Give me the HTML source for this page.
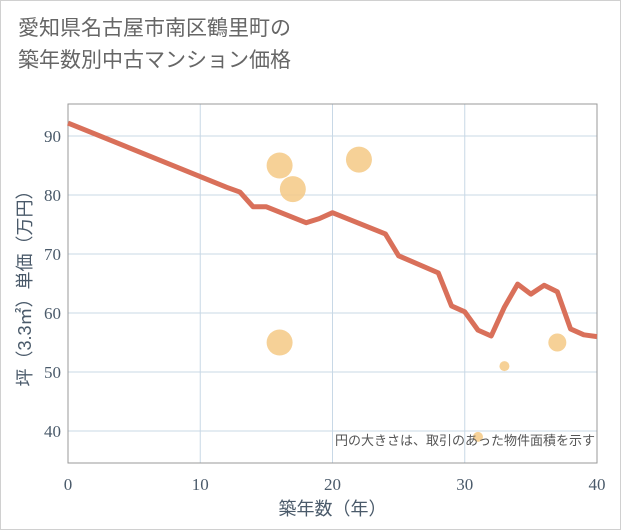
<!DOCTYPE html>
<html><head><meta charset="utf-8"><style>
html,body{margin:0;padding:0;background:#fff}
#wrap{position:relative;width:619px;height:528px;border:1px solid #d0d0d0;background:#fff;font-family:"Liberation Sans","Noto Sans CJK JP",sans-serif}
.title{position:absolute;left:17px;top:12px;font-size:21px;line-height:32px;color:#666}
svg{position:absolute;left:0;top:0}
</style></head><body>
<div id="wrap">
<div class="title">愛知県名古屋市南区鶴里町の<br>築年数別中古マンション価格</div>
<svg id="chart" width="621" height="530"></svg>
</div>
<script>
const lineYears=[0,12,13,14,15,18,19,20,24,25,28,29,30,31,32,33,34,35,36,37,38,39,40];
const lineValues=[92.2,81.3,80.5,78,78,75.3,76,77,73.4,69.7,66.8,61.2,60.2,57.1,56.1,61,64.9,63.2,64.7,63.6,57.3,56.3,56];
const bubbleYears=[16,17,22,16,33,37,31];
const bubbleValues=[85,81,86,55,51,55,39];
const bubbleRadii=[13,13,13,13,5,9,5];
const xTicks=[0,10,20,30,40];
const yTicks=[40,50,60,70,80,90];
const NS="http://www.w3.org/2000/svg";
const svg=document.getElementById('chart');
const L=67,R=596,T=103,B=462;
const xs=v=>L+(v-0)/40*(R-L);
const ys=v=>430-(v-40)*5.9;
function mk(t,a){const e=document.createElementNS(NS,t);for(const k in a)e.setAttribute(k,a[k]);svg.appendChild(e);return e;}
xTicks.forEach(t=>{
 if(t>0&&t<40){const g=mk('line',{x1:xs(t),x2:xs(t),y1:T,y2:B,stroke:'#c8d8e6','stroke-width':1});
 
 }
 const l=mk('text',{x:xs(t),y:B+27,'text-anchor':'middle','font-size':17,fill:'#4a5a6a','font-family':'"Liberation Serif",serif'});
 l.textContent=t;
 
 
});
yTicks.forEach(t=>{
 const g=mk('line',{x1:L,x2:R,y1:ys(t),y2:ys(t),stroke:'#c8d8e6','stroke-width':1});
 
 
 const l=mk('text',{x:L-7,y:ys(t)+6,'text-anchor':'end','font-size':17,fill:'#4a5a6a','font-family':'"Liberation Serif",serif'});
 l.textContent=t;
 
 
});
const fr=mk('rect',{x:L,y:T,width:R-L,height:B-T,fill:'none',stroke:'#999','stroke-width':1});


bubbleYears.forEach((yr,i)=>{
 const c=mk('circle',{cx:xs(yr),cy:ys(bubbleValues[i]),r:bubbleRadii[i],fill:'#f5c985','fill-opacity':0.85});
 
 
});
const pts=lineYears.map((y,i)=>xs(y)+','+ys(lineValues[i])).join(' ');
const pl=mk('polyline',{points:pts,fill:'none',stroke:'#d9705a','stroke-width':5,'stroke-linejoin':'round'});


const note=mk('text',{x:R-2,y:444,'text-anchor':'end','font-size':13,fill:'#555'});
note.textContent='円の大きさは、取引のあった物件面積を示す';


const xt=mk('text',{x:(L+R)/2,y:514,'text-anchor':'middle','font-size':18,fill:'#4a5a6a'});
xt.textContent='築年数（年）';


const yt=mk('text',{x:0,y:0,'text-anchor':'middle','font-size':18,fill:'#4a5a6a',transform:'translate(30,283) rotate(-90)'});
yt.textContent='坪（3.3㎡）単価（万円）';


</script>
</body></html>
